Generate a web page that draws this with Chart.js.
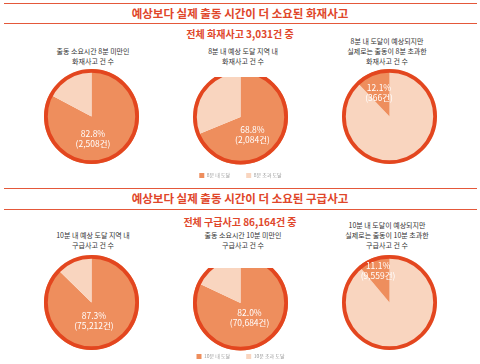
<!DOCTYPE html>
<html>
<head>
<meta charset="utf-8">
<script src="https://cdn.jsdelivr.net/npm/chart.js@4.4.0/dist/chart.umd.min.js"></script>
<style>
  html, body { margin: 0; padding: 0; background: #ffffff; }
  #root { position: relative; width: 480px; height: 364px; overflow: hidden;
          font-family: "Noto Sans CJK KR", "Noto Sans", sans-serif; }
  .t { position: absolute; white-space: nowrap; transform: translate(-50%, -50%); line-height: 1; }
  .title { font-size: 11.5px; font-weight: bold; color: #E0462A; }
  .sub { font-size: 10px; font-weight: bold; color: #E0462A; }
  .cap { font-size: 7px; color: #333333; }
  .rule { position: absolute; left: 4px; width: 473px; height: 1px; background: #E4583A; }
  canvas { position: absolute; }
</style>
</head>
<body>
<div id="root"></div>
<script>
// ---------------- data ----------------
const sectionTitles = ['예상보다 실제 출동 시간이 더 소요된 화재사고', '예상보다 실제 출동 시간이 더 소요된 구급사고'];
const sectionSubtitles = ['전체 화재사고 3,031건 중', '전체 구급사고 86,164건 중'];
const fireCaptions = [
  ['출동 소요시간 8분 미만인', '화재사고 건 수'],
  ['8분 내 예상 도달 지역 내', '화재사고 건 수'],
  ['8분 내 도달이 예상되지만', '실제로는 출동이 8분 초과한', '화재사고 건 수']
];
const emsCaptions = [
  ['10분 내 예상 도달 지역 내', '구급사고 건 수'],
  ['출동 소요시간 10분 미만인', '구급사고 건 수'],
  ['10분 내 도달이 예상되지만', '실제로는 출동이 10분 초과한', '구급사고 건 수']
];
const fireLegend = ['8분 내 도달', '8분 초과 도달'];
const emsLegend = ['10분 내 도달', '10분 초과 도달'];
const firePercents = [82.8, 68.8, 12.1];
const fireCounts = [2508, 2084, 366];
const emsPercents = [87.3, 82.0, 11.1];
const emsCounts = [75212, 70684, 9559];

// ---------------- style / layout ----------------
const DARK = '#EE8E5D';
const LIGHT = '#F9D5BF';
const RING = '#E3461F';
const FONT = '"Noto Sans CJK KR", "Noto Sans", sans-serif';
const PIE_R = 47.5;
const colX = [91.5, 240.5, 389.5];
const capX = [93, 243, 387];
const sections = [
  { title: sectionTitles[0], sub: sectionSubtitles[0], caps: fireCaptions, legend: fireLegend,
    pct: firePercents, cnt: fireCounts,
    rule1: 2.5, titleY: 14, rule2: 23, subY: 34, capBottomY: 61, pieY: 116.5,
    legendOffset: 58.5,
    lab: [{dist: 25.7, dx: -11.7}, {dist: 31.5, dx: -14.2}, {dist: 25.3, dx: -1.1}] },
  { title: sectionTitles[1], sub: sectionSubtitles[1], caps: emsCaptions, legend: emsLegend,
    pct: emsPercents, cnt: emsCounts,
    rule1: 188, titleY: 199, rule2: 209, subY: 222, capBottomY: 245, pieY: 302.5,
    legendOffset: 53.5,
    lab: [{dist: 19.5, dx: -5.1}, {dist: 17.2, dx: -0.2}, {dist: 33.5, dx: 0}] }
];
const LEG_FONT = 5;
const LEG_BOX = 5;
const LEG_PAD = 16;

const root = document.getElementById('root');
function addText(cls, text, x, y) {
  const d = document.createElement('div');
  d.className = 't ' + cls;
  d.textContent = text;
  d.style.left = x + 'px';
  d.style.top = y + 'px';
  root.appendChild(d);
}
function addRule(y) {
  const d = document.createElement('div');
  d.className = 'rule';
  d.style.top = y + 'px';
  root.appendChild(d);
}

const ringPlugin = {
  id: 'ring',
  afterDatasetsDraw(chart, args, opts) {
    const arc = chart.getDatasetMeta(0).data[0];
    if (!arc) return;
    const p = arc.getProps(['x', 'y', 'outerRadius'], true);
    const ctx = chart.ctx;
    ctx.save();
    ctx.beginPath();
    ctx.lineWidth = opts.width;
    ctx.strokeStyle = opts.color;
    ctx.arc(p.x, p.y, p.outerRadius - opts.width / 2, 0, Math.PI * 2);
    ctx.stroke();
    ctx.restore();
  }
};
const labelPlugin = {
  id: 'pieLabels',
  afterDatasetsDraw(chart, args, opts) {
    const arc = chart.getDatasetMeta(0).data[opts.index];
    if (!arc) return;
    const p = arc.getProps(['x', 'y', 'startAngle', 'endAngle'], true);
    const mid = (p.startAngle + p.endAngle) / 2;
    const x = p.x + Math.cos(mid) * opts.dist + opts.dx;
    const y = p.y + Math.sin(mid) * opts.dist;
    const ctx = chart.ctx;
    ctx.save();
    ctx.fillStyle = '#ffffff';
    ctx.font = '8.5px ' + FONT;
    ctx.textAlign = 'center';
    ctx.textBaseline = 'middle';
    ctx.fillText(opts.lines[0], x, y - 4.8);
    ctx.fillText(opts.lines[1], x, y + 4.8);
    ctx.restore();
  }
};

sections.forEach((s) => {
  addRule(s.rule1);
  addText('title', s.title, 240, s.titleY);
  addRule(s.rule2);
  addText('sub', s.sub, 240, s.subY);
  s.caps.forEach((lines, i) => {
    lines.forEach((ln, k) => {
      addText('cap', ln, capX[i], s.capBottomY - (lines.length - 1 - k) * 10);
    });
  });
  for (let i = 0; i < 3; i++) {
    const highlightLast = (i === 2);
    const pct = s.pct[i];
    const values = highlightLast ? [100 - pct, pct] : [pct, 100 - pct];
    const colors = highlightLast ? [LIGHT, DARK] : [DARK, LIGHT];
    const labels = highlightLast ? [s.legend[1], s.legend[0]] : [s.legend[0], s.legend[1]];
    const withLegend = (i === 1);
    const cv = document.createElement('canvas');
    let w, h, top;
    if (withLegend) {
      const itemH = Math.max(LEG_FONT, LEG_BOX);
      const hc = 2 * (s.legendOffset - LEG_PAD - itemH / 2);
      h = Math.round(hc + itemH + LEG_PAD + 10);
      w = 151;
      top = s.pieY - hc / 2;
    } else {
      w = 111; h = 111;
      top = s.pieY - h / 2;
    }
    cv.width = w; cv.height = h;
    cv.style.left = (colX[i] - w / 2) + 'px';
    cv.style.top = top + 'px';
    root.appendChild(cv);
    new Chart(cv, {
      type: 'pie',
      data: {
        labels: labels,
        datasets: [{
          data: values,
          backgroundColor: colors,
          borderWidth: 0,
          radius: PIE_R,
          clip: false
        }]
      },
      options: {
        responsive: false,
        animation: false,
        events: [],
        layout: { padding: 0 },
        plugins: {
          tooltip: { enabled: false },
          legend: {
            display: withLegend,
            position: 'bottom',
            labels: {
              boxWidth: LEG_BOX,
              boxHeight: LEG_BOX,
              padding: LEG_PAD,
              color: '#9a9a9a',
              font: { size: LEG_FONT, family: FONT }
            }
          },
          ring: { width: 3.8, color: RING },
          pieLabels: {
            index: highlightLast ? 1 : 0,
            dist: s.lab[i].dist,
            dx: s.lab[i].dx,
            lines: [pct.toFixed(1) + '%', '(' + s.cnt[i].toLocaleString('en-US') + '건)']
          }
        }
      },
      plugins: [ringPlugin, labelPlugin]
    });
  }
});
</script>
</body>
</html>
